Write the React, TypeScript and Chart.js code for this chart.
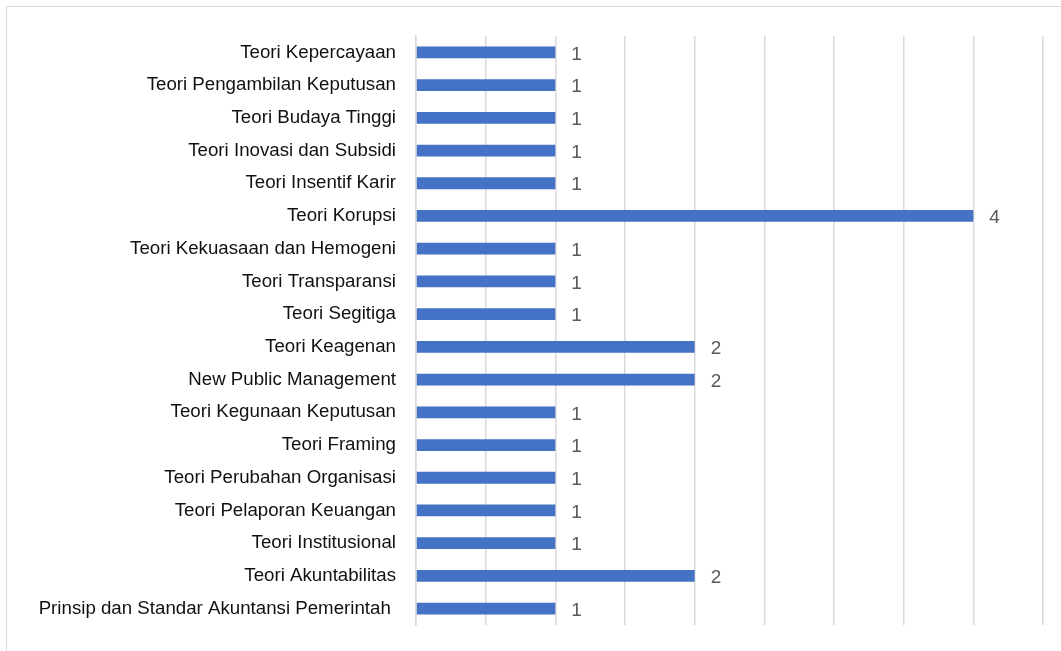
import React, { useEffect, useRef } from "react";
import { Chart, registerables } from "chart.js";

Chart.register(...registerables);

const categories: string[] = [
  "Teori Kepercayaan",
  "Teori Pengambilan Keputusan",
  "Teori Budaya Tinggi",
  "Teori Inovasi dan Subsidi",
  "Teori Insentif Karir",
  "Teori Korupsi",
  "Teori Kekuasaan dan Hemogeni",
  "Teori Transparansi",
  "Teori Segitiga",
  "Teori Keagenan",
  "New Public Management",
  "Teori Kegunaan Keputusan",
  "Teori Framing",
  "Teori Perubahan Organisasi",
  "Teori Pelaporan Keuangan",
  "Teori Institusional",
  "Teori Akuntabilitas",
  "Prinsip dan Standar Akuntansi Pemerintah ",
];

const values: number[] = [1, 1, 1, 1, 1, 4, 1, 1, 1, 2, 2, 1, 1, 1, 1, 1, 2, 1];

const FONT = "'Liberation Sans', Arial, sans-serif";

const valueLabels = {
  id: "valueLabels",
  afterDatasetsDraw(chart: any) {
    const ctx = chart.ctx;
    const meta = chart.getDatasetMeta(0);
    ctx.save();
    ctx.fillStyle = "#595959";
    ctx.font = `19px ${FONT}`;
    ctx.textAlign = "left";
    ctx.textBaseline = "middle";
    meta.data.forEach((bar: any, i: number) => {
      ctx.fillText(String(values[i]), bar.x + 16, bar.y + 2);
    });
    ctx.restore();
  },
};

export default function App() {
  const ref = useRef<HTMLCanvasElement | null>(null);
  useEffect(() => {
    if (!ref.current) return;
    const chart = new Chart(ref.current, {
      type: "bar",
      data: {
        labels: categories,
        datasets: [
          {
            data: values,
            backgroundColor: "#4472C4",
            borderWidth: 0,
            barPercentage: 0.36,
            categoryPercentage: 1,
          },
        ],
      },
      options: {
        indexAxis: "y",
        animation: false,
        responsive: false,
        maintainAspectRatio: false,
        layout: { padding: { left: 0, top: 36, right: 18, bottom: 26 } },
        plugins: { legend: { display: false }, tooltip: { enabled: false } },
        scales: {
          x: {
            min: 0,
            max: 4.5,
            ticks: { display: false, stepSize: 0.5 },
            grid: { color: "#d9d9d9", lineWidth: 1.5, drawTicks: false },
            border: { display: false },
            afterFit(scale: any) {
              scale.height = 0;
              scale.paddingLeft = 0;
              scale.paddingRight = 0;
            },
          },
          y: {
            ticks: {
              color: "#111111",
              font: { family: FONT, size: 18.7 },
              padding: 20,
              autoSkip: false,
            },
            grid: { display: false, drawTicks: false },
            border: { display: true, color: "#d9d9d9", width: 1.5 },
            afterFit(scale: any) {
              scale.width = 416;
              scale.paddingTop = 0;
              scale.paddingBottom = 0;
            },
          },
        },
      },
      plugins: [valueLabels],
    });
    return () => chart.destroy();
  }, []);

  return (
    <div style={{ position: "fixed", left: 0, top: 0, width: 1061, height: 651, overflow: "hidden", background: "#fff" }}>
      <div
        style={{
          position: "absolute",
          left: 6,
          top: 6,
          width: 1200,
          height: 800,
          border: "1.5px solid #d9d9d9",
          boxSizing: "border-box",
        }}
      />
      <canvas ref={ref} width={1061} height={651} style={{ position: "absolute", left: 0, top: 0 }} />
    </div>
  );
}
